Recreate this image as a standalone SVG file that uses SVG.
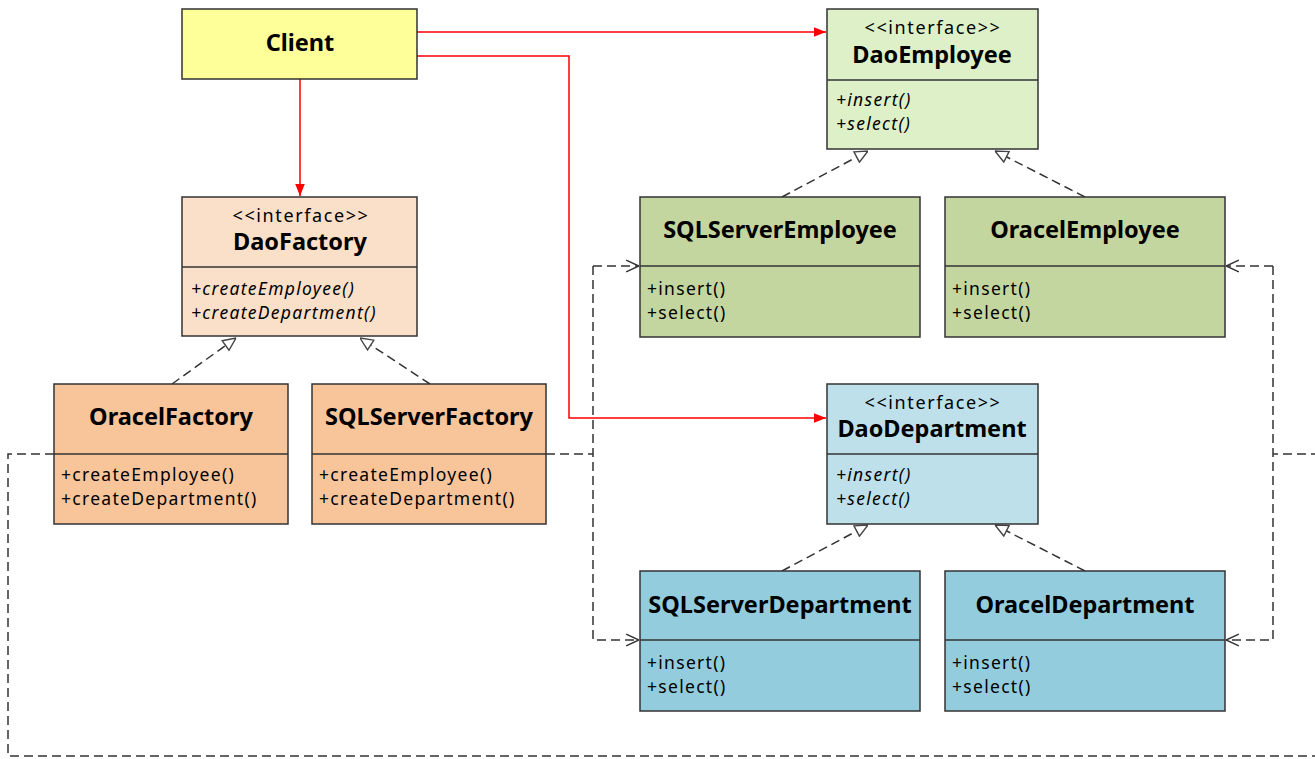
<svg xmlns="http://www.w3.org/2000/svg" width="1315" height="759" viewBox="0 0 1315 759">
<style>
.box{stroke:#333;stroke-width:1.5}
.div{stroke:#333;stroke-width:1.5}
.t{font-family:"Noto Sans","Open Sans","DejaVu Sans",sans-serif;fill:#000}
.title{font-size:23.5px;font-weight:bold;text-anchor:middle}
.st{font-size:18px;text-anchor:middle;letter-spacing:1.6px}
.m{font-size:17.5px;letter-spacing:1.3px}
.i{font-style:italic}
.red{stroke:#ff0000;stroke-width:1.5;fill:none}
.dash{stroke:#333;stroke-width:1.5;fill:none;stroke-dasharray:9,5}
</style>
<defs>
<marker id="fill" markerWidth="12" markerHeight="12" refX="10" refY="5" orient="auto" markerUnits="userSpaceOnUse" viewBox="0 0 10 10">
<path d="M0,1 L10,5 L0,9 Z" fill="#ff0000"/>
</marker>
<marker id="tri" markerWidth="14" markerHeight="14" refX="12" refY="6" orient="auto" markerUnits="userSpaceOnUse" viewBox="0 0 12 12">
<path d="M1,1 L12,6 L1,11 Z" fill="#fff" stroke="#444" stroke-width="1.2"/>
</marker>
<marker id="open" markerWidth="14" markerHeight="14" refX="12" refY="6" orient="auto" markerUnits="userSpaceOnUse" viewBox="0 0 12 12">
<path d="M1,1 L12,6 L1,11" fill="none" stroke="#333" stroke-width="1.3"/>
</marker>
</defs>

<g id="connectors">
<path class="red" d="M417,32 H826" marker-end="url(#fill)"/>
<path class="red" d="M417,56 H569 V418 H826" marker-end="url(#fill)"/>
<path class="red" d="M300,79 V196" marker-end="url(#fill)"/>
<path class="dash" d="M782,197 L868,151" marker-end="url(#tri)"/>
<path class="dash" d="M1085,197 L995,151" marker-end="url(#tri)"/>
<path class="dash" d="M172,384 L236,338" marker-end="url(#tri)"/>
<path class="dash" d="M430,384 L360,338" marker-end="url(#tri)"/>
<path class="dash" d="M782,571 L868,525" marker-end="url(#tri)"/>
<path class="dash" d="M1085,571 L995,525" marker-end="url(#tri)"/>
<path class="dash" d="M546,454 H593"/>
<path class="dash" d="M593,266 H639" marker-end="url(#open)"/>
<path class="dash" d="M593,266 V640 H639" marker-end="url(#open)"/>
<path class="dash" d="M54,454 H8 V756 H1320"/>
<path class="dash" d="M1320,454 H1273"/>
<path class="dash" d="M1273,266 H1226" marker-end="url(#open)"/>
<path class="dash" d="M1273,266 V640 H1226" marker-end="url(#open)"/>
</g>

<g id="client">
<rect class="box" x="182" y="9" width="235" height="70" fill="#ffff99"/>
<text class="t title" x="300" y="51">Client</text>
</g>

<g id="daoEmployee">
<rect class="box" x="827" y="9" width="211" height="140" fill="#ddf0c8"/>
<line class="div" x1="827" y1="80" x2="1038" y2="80"/>
<text class="t st" x="933" y="34">&lt;&lt;interface&gt;&gt;</text>
<text class="t title" x="932" y="63">DaoEmployee</text>
<text class="t m i" x="836" y="106">+insert()</text>
<text class="t m i" x="836" y="130">+select()</text>
</g>

<g id="daoFactory">
<rect class="box" x="182" y="197" width="235" height="139" fill="#fadfc9"/>
<line class="div" x1="182" y1="267" x2="417" y2="267"/>
<text class="t st" x="301" y="222">&lt;&lt;interface&gt;&gt;</text>
<text class="t title" x="300" y="250">DaoFactory</text>
<text class="t m i" x="191" y="295">+createEmployee()</text>
<text class="t m i" x="191" y="319">+createDepartment()</text>
</g>

<g id="sqlServerEmployee">
<rect class="box" x="640" y="197" width="280" height="140" fill="#c4d69f"/>
<line class="div" x1="640" y1="266" x2="920" y2="266"/>
<text class="t title" x="780" y="238">SQLServerEmployee</text>
<text class="t m" x="647" y="295">+insert()</text>
<text class="t m" x="647" y="319">+select()</text>
</g>

<g id="oracelEmployee">
<rect class="box" x="945" y="197" width="280" height="140" fill="#c4d69f"/>
<line class="div" x1="945" y1="266" x2="1225" y2="266"/>
<text class="t title" x="1085" y="238">OracelEmployee</text>
<text class="t m" x="952" y="295">+insert()</text>
<text class="t m" x="952" y="319">+select()</text>
</g>

<g id="oracelFactory">
<rect class="box" x="54" y="384" width="234" height="140" fill="#f8c59b"/>
<line class="div" x1="54" y1="454" x2="288" y2="454"/>
<text class="t title" x="171" y="425">OracelFactory</text>
<text class="t m" x="61" y="481">+createEmployee()</text>
<text class="t m" x="61" y="505">+createDepartment()</text>
</g>

<g id="sqlServerFactory">
<rect class="box" x="312" y="384" width="234" height="140" fill="#f8c59b"/>
<line class="div" x1="312" y1="454" x2="546" y2="454"/>
<text class="t title" x="429" y="425">SQLServerFactory</text>
<text class="t m" x="319" y="481">+createEmployee()</text>
<text class="t m" x="319" y="505">+createDepartment()</text>
</g>

<g id="daoDepartment">
<rect class="box" x="827" y="384" width="211" height="140" fill="#bee0ea"/>
<line class="div" x1="827" y1="454" x2="1038" y2="454"/>
<text class="t st" x="933" y="409">&lt;&lt;interface&gt;&gt;</text>
<text class="t title" x="932" y="437">DaoDepartment</text>
<text class="t m i" x="836" y="481">+insert()</text>
<text class="t m i" x="836" y="505">+select()</text>
</g>

<g id="sqlServerDepartment">
<rect class="box" x="640" y="571" width="280" height="140" fill="#93cddd"/>
<line class="div" x1="640" y1="640" x2="920" y2="640"/>
<text class="t title" x="780" y="613">SQLServerDepartment</text>
<text class="t m" x="647" y="669">+insert()</text>
<text class="t m" x="647" y="693">+select()</text>
</g>

<g id="oracelDepartment">
<rect class="box" x="945" y="571" width="280" height="140" fill="#93cddd"/>
<line class="div" x1="945" y1="640" x2="1225" y2="640"/>
<text class="t title" x="1085" y="613">OracelDepartment</text>
<text class="t m" x="952" y="669">+insert()</text>
<text class="t m" x="952" y="693">+select()</text>
</g>
</svg>
